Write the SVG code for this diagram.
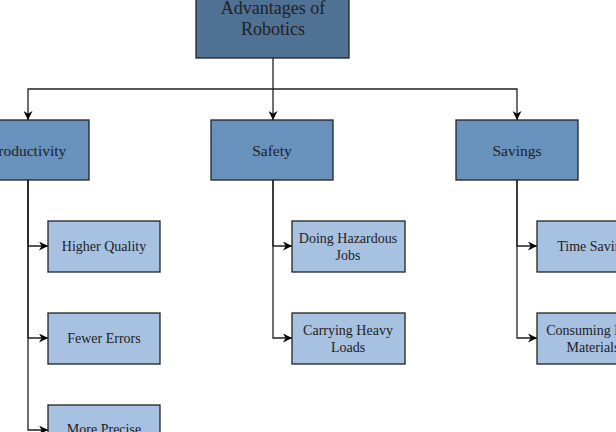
<svg xmlns="http://www.w3.org/2000/svg" width="616" height="432" viewBox="0 0 616 432">
<defs>
<marker id="arr" viewBox="0 0 10 10" refX="10" refY="5" markerWidth="9" markerHeight="9" markerUnits="userSpaceOnUse" orient="auto"><path d="M0,0 L10,5 L0,10 L3,5 Z" fill="#000"/></marker>
<style>
.root{fill:#4f7193;stroke:#222;stroke-width:1.3}
.mid{fill:#6891bc;stroke:#222;stroke-width:1.3}
.leaf{fill:#a7c1e1;stroke:#222;stroke-width:1.3}
text{font-family:"Liberation Serif","Times New Roman",serif;fill:#222;text-anchor:middle}
.t1{font-size:18px}
.t2{font-size:15.5px}
.t3{font-size:14px}
.c{fill:none;stroke:#222;stroke-width:1.3;marker-end:url(#arr)}
.l{fill:none;stroke:#222;stroke-width:1.3}
</style>
</defs>
<g id="connectors">
<path class="l" d="M273,58 V89"/>
<path class="c" d="M273,89 H28 V120"/>
<path class="c" d="M273,89 V120"/>
<path class="c" d="M273,89 H517 V120"/>
<path class="c" d="M28,180 V246 H48"/>
<path class="c" d="M28,180 V338 H48"/>
<path class="c" d="M28,180 V430 H48"/>
<path class="c" d="M273,180 V246 H292"/>
<path class="c" d="M273,180 V338 H292"/>
<path class="c" d="M517,180 V246 H537"/>
<path class="c" d="M517,180 V338 H537"/>
</g>
<g id="root"><rect class="root" x="196" y="-12" width="153" height="70"/><text class="t1" x="273" y="14">Advantages of</text><text class="t1" x="273" y="35">Robotics</text></g>
<g id="productivity"><rect class="mid" x="-33" y="120" width="122" height="60"/><text class="t2" x="28" y="156">Productivity</text></g>
<g id="safety"><rect class="mid" x="211" y="120" width="122" height="60"/><text class="t2" x="272" y="156">Safety</text></g>
<g id="savings"><rect class="mid" x="456" y="120" width="122" height="60"/><text class="t2" x="517" y="156">Savings</text></g>
<g id="higher-quality"><rect class="leaf" x="48" y="221" width="112" height="51"/><text class="t3" x="104" y="251">Higher Quality</text></g>
<g id="fewer-errors"><rect class="leaf" x="48" y="313" width="112" height="51"/><text class="t3" x="104" y="343">Fewer Errors</text></g>
<g id="more-precise"><rect class="leaf" x="48" y="405" width="112" height="51"/><text class="t3" x="104" y="434">More Precise</text></g>
<g id="hazardous"><rect class="leaf" x="292" y="221" width="113" height="51"/><text class="t3" x="348" y="243">Doing Hazardous</text><text class="t3" x="348" y="260">Jobs</text></g>
<g id="heavy-loads"><rect class="leaf" x="292" y="313" width="113" height="51"/><text class="t3" x="348" y="335">Carrying Heavy</text><text class="t3" x="348" y="352">Loads</text></g>
<g id="time-saving"><rect class="leaf" x="537" y="221" width="113" height="51"/><text class="t3" x="593" y="251">Time Saving</text></g>
<g id="materials"><rect class="leaf" x="537" y="313" width="113" height="51"/><text class="t3" x="593" y="335">Consuming Less</text><text class="t3" x="593" y="352">Materials</text></g>
</svg>
